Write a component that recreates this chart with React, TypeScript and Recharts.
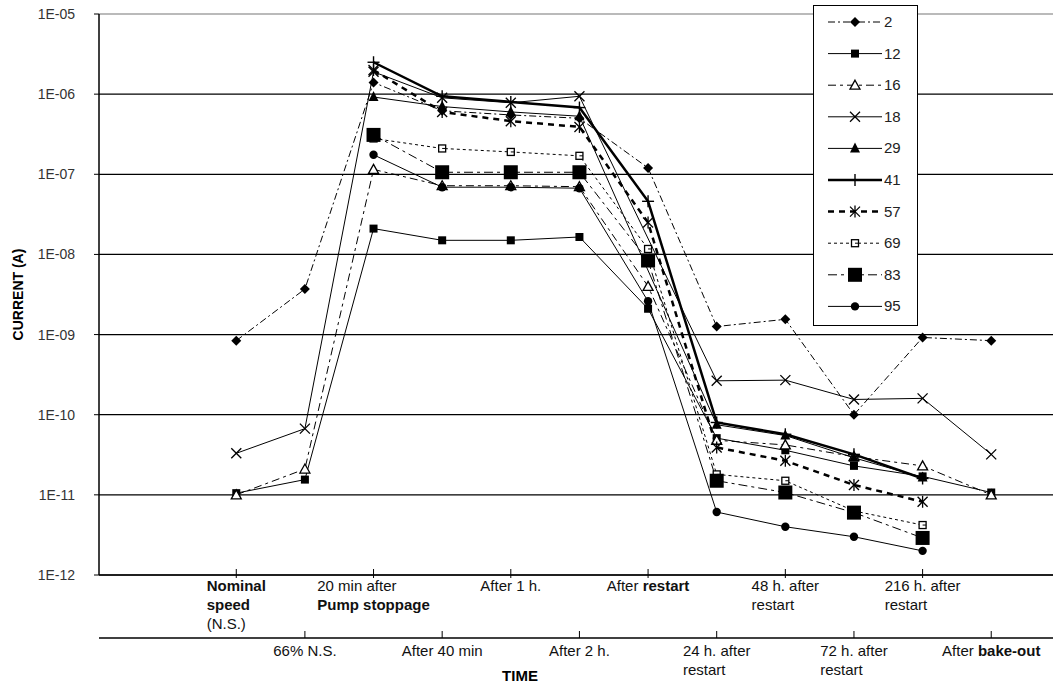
import React from "react";
import { LineChart, Line, XAxis, YAxis, CartesianGrid, Legend } from "recharts";

// x categories (index = position on the time axis)
const categories = [
  "Nominal speed (N.S.)",
  "66% N.S.",
  "20 min after Pump stoppage",
  "After 40 min",
  "After 1 h.",
  "After 2 h.",
  "After restart",
  "24 h. after restart",
  "48 h. after restart",
  "72 h. after restart",
  "216 h. after restart",
  "After bake-out",
];

// tick label lines, each line is a list of [text, bold]
const tickLines: [string, boolean][][][] = [
  [[["Nominal", true]], [["speed", true]], [["(N.S.)", false]]],
  [[["66% N.S.", false]]],
  [[["20 min after", false]], [["Pump stoppage", true]]],
  [[["After 40 min", false]]],
  [[["After 1 h.", false]]],
  [[["After 2 h.", false]]],
  [[["After ", false], ["restart", true]]],
  [[["24 h. after", false]], [["restart", false]]],
  [[["48 h. after", false]], [["restart", false]]],
  [[["72 h. after", false]], [["restart", false]]],
  [[["216 h. after", false]], [["restart", false]]],
  [[["After ", false], ["bake-out", true]]],
];

const topTicks = [0, 2, 4, 6, 8, 10];
const bottomTicks = [1, 3, 5, 7, 9, 11];
const yTicks = [1e-12, 1e-11, 1e-10, 1e-9, 1e-8, 1e-7, 1e-6, 1e-5];

const s2 = [8.4e-10, 3.7e-9, 1.4e-6, 6.2e-7, 5.5e-7, 5.0e-7, 1.2e-7, 1.26e-9, 1.55e-9, 1.0e-10, 9.2e-10, 8.4e-10];
const s12 = [1.05e-11, 1.55e-11, 2.1e-8, 1.5e-8, 1.5e-8, 1.65e-8, 2.1e-9, 5.1e-11, 3.6e-11, 2.3e-11, 1.7e-11, 1.07e-11];
const s16 = [1.0e-11, 2.1e-11, 1.15e-7, 7.2e-8, 7.2e-8, 7.0e-8, 4.0e-9, 4.8e-11, 4.2e-11, 3.0e-11, 2.3e-11, 1.0e-11];
const s18 = [3.3e-11, 6.7e-11, 1.9e-6, 9.0e-7, 7.8e-7, 9.4e-7, null, 2.65e-10, 2.7e-10, 1.55e-10, 1.6e-10, 3.2e-11];
const s29 = [null, null, 9.2e-7, 7.0e-7, 6.0e-7, 5.3e-7, null, 7.5e-11, 5.5e-11, 2.9e-11, 1.65e-11, null];
const s41 = [null, null, 2.5e-6, 9.4e-7, 8.0e-7, 6.8e-7, 4.6e-8, 8.0e-11, 5.7e-11, 3.2e-11, 1.6e-11, null];
const s57 = [null, null, 2.0e-6, 6.0e-7, 4.6e-7, 3.9e-7, 2.5e-8, 3.9e-11, 2.66e-11, 1.33e-11, 8.2e-12, null];
const s69 = [null, null, 2.8e-7, 2.1e-7, 1.9e-7, 1.7e-7, 1.17e-8, 1.8e-11, 1.5e-11, 6.3e-12, 4.2e-12, null];
const s83 = [null, null, 3.1e-7, 1.06e-7, 1.06e-7, 1.06e-7, 8.4e-9, 1.5e-11, 1.07e-11, 6.0e-12, 2.9e-12, null];
const s95 = [null, null, 1.75e-7, 6.9e-8, 6.9e-8, 6.7e-8, 2.6e-9, 6.1e-12, 4.0e-12, 3.0e-12, 2.0e-12, null];

const seriesNames = ["2", "12", "16", "18", "29", "41", "57", "69", "83", "95"];
const seriesValues = [s2, s12, s16, s18, s29, s41, s57, s69, s83, s95];

// drawing style per series
const styles = [
  { marker: "diamond", width: 1, dash: "7 3 2 3", connect: false },
  { marker: "square", width: 1, dash: undefined, connect: false },
  { marker: "triOpen", width: 1, dash: "8 4 3 4", connect: false },
  { marker: "x", width: 1, dash: undefined, connect: true },
  { marker: "tri", width: 1, dash: undefined, connect: true },
  { marker: "plus", width: 2.5, dash: undefined, connect: false },
  { marker: "star", width: 2.5, dash: "6 5", connect: false },
  { marker: "sqOpen", width: 1, dash: "3 3", connect: false },
  { marker: "sqBig", width: 1, dash: "9 4 3 4", connect: false },
  { marker: "circle", width: 1, dash: undefined, connect: false },
];

const data = categories.map((c, i) => {
  const row: any = { idx: i, name: c };
  seriesNames.forEach((n, k) => (row["s" + n] = seriesValues[k][i]));
  return row;
});

const FONT = '"Liberation Sans", Arial, sans-serif';
const FS = 15;

const ctx = typeof document !== "undefined" ? document.createElement("canvas").getContext("2d") : null;
function lineWidth(segs: [string, boolean][]) {
  if (!ctx) return segs.reduce((a, [t]) => a + t.length * 7.5, 0);
  return segs.reduce((a, [t, b]) => {
    ctx.font = `${b ? "bold " : ""}${FS}px ${FONT}`;
    return a + ctx.measureText(t).width;
  }, 0);
}

function Marker({ kind, cx, cy }: { kind: string; cx: number; cy: number }) {
  const k = "#000";
  switch (kind) {
    case "diamond":
      return <polygon points={`${cx},${cy - 5} ${cx + 5},${cy} ${cx},${cy + 5} ${cx - 5},${cy}`} fill={k} />;
    case "square":
      return <rect x={cx - 4} y={cy - 4} width={8} height={8} fill={k} />;
    case "triOpen":
      return <polygon points={`${cx},${cy - 5} ${cx + 5},${cy + 4} ${cx - 5},${cy + 4}`} fill="#fff" stroke={k} strokeWidth={1.3} />;
    case "x":
      return (
        <g stroke={k} strokeWidth={1.3}>
          <line x1={cx - 5} y1={cy - 5} x2={cx + 5} y2={cy + 5} />
          <line x1={cx - 5} y1={cy + 5} x2={cx + 5} y2={cy - 5} />
        </g>
      );
    case "tri":
      return <polygon points={`${cx},${cy - 6} ${cx + 5},${cy + 4} ${cx - 5},${cy + 4}`} fill={k} />;
    case "plus":
      return (
        <g stroke={k} strokeWidth={1.4}>
          <line x1={cx - 6} y1={cy} x2={cx + 6} y2={cy} />
          <line x1={cx} y1={cy - 6} x2={cx} y2={cy + 6} />
        </g>
      );
    case "star":
      return (
        <g stroke={k} strokeWidth={1.3}>
          <line x1={cx - 5} y1={cy - 5} x2={cx + 5} y2={cy + 5} />
          <line x1={cx - 5} y1={cy + 5} x2={cx + 5} y2={cy - 5} />
          <line x1={cx} y1={cy - 6} x2={cx} y2={cy + 6} />
        </g>
      );
    case "sqOpen":
      return (
        <g>
          <rect x={cx - 3.5} y={cy - 3.5} width={7} height={7} fill="#fff" stroke={k} strokeWidth={1.3} />
          <line x1={cx} y1={cy} x2={cx + 3.5} y2={cy} stroke={k} />
        </g>
      );
    case "sqBig":
      return <rect x={cx - 7} y={cy - 7} width={14} height={14} fill={k} />;
    default:
      return <circle cx={cx} cy={cy} r={4.2} fill={k} />;
  }
}

const makeDot = (kind: string) => (p: any) => {
  if (p.cy == null || p.value == null) return <g key={p.key} />;
  return (
    <g key={p.key}>
      <Marker kind={kind} cx={p.cx} cy={p.cy} />
    </g>
  );
};

function LabelBlock({ x, y, lines, first, step }: any) {
  const w = Math.max(...lines.map((l: [string, boolean][]) => lineWidth(l)));
  const left = x - w / 2;
  return (
    <>
      {lines.map((segs: [string, boolean][], i: number) => (
        <text key={i} x={left} y={y + first + i * step} fontSize={FS} fontFamily={FONT} fill="#111" style={{ whiteSpace: "pre" }}>
          {segs.map(([t, b], j) => (
            <tspan key={j} fontWeight={b ? 700 : 400}>
              {t}
            </tspan>
          ))}
        </text>
      ))}
    </>
  );
}

const TopTick = (p: any) => {
  const { x, y, payload } = p;
  return (
    <g>
      <line x1={x} x2={x} y1={y - 6} y2={y + 3} stroke="#000" />
      <LabelBlock x={x} y={y} lines={tickLines[payload.value]} first={16} step={19} />
    </g>
  );
};

const BottomTick = (p: any) => {
  const { x, y, payload } = p;
  return (
    <g>
      <line x1={x} x2={x} y1={y - 7} y2={y} stroke="#000" />
      <LabelBlock x={x} y={y} lines={tickLines[payload.value]} first={18} step={19} />
    </g>
  );
};

const fmtY = (v: number) => {
  const e = Math.round(Math.log10(v));
  return `1E-${String(-e).padStart(2, "0")}`;
};

const LegendBox = () => (
  <svg width={105} height={321} style={{ display: "block" }}>
    <rect x={0.5} y={0.5} width={104} height={320} fill="#fff" stroke="#000" />
    {seriesNames.map((n, i) => {
      const cy = 17 + i * 31.6;
      const s = styles[i];
      return (
        <g key={n}>
          <line x1={15} x2={69} y1={cy} y2={cy} stroke="#000" strokeWidth={s.width} strokeDasharray={s.dash} />
          <Marker kind={s.marker} cx={42} cy={cy} />
          <text x={71} y={cy + 5} fontSize={FS} fontFamily={FONT} fill="#222">
            {n}
          </text>
        </g>
      );
    })}
  </svg>
);

export default function App() {
  return (
    <div style={{ position: "absolute", left: 0, top: 0, background: "#fff" }}>
      <LineChart width={1053} height={684} data={data} margin={{ top: 14, right: 0, left: 0, bottom: 0 }} style={{ fontFamily: FONT }}>
        <CartesianGrid
          vertical={false}
          stroke="#000"
          strokeWidth={1.2}
          horizontal={(p: any) => (
            <line key={p.key ?? p.index} x1={p.x1} x2={p.x2} y1={p.y1} y2={p.y2} stroke={p.index === 7 || p.y1 < 20 ? "#777" : "#000"} strokeWidth={1.2} />
          )}
        />
        <XAxis
          xAxisId="a"
          type="number"
          dataKey="idx"
          domain={[-2, 11.9]}
          ticks={topTicks}
          interval={0}
          allowDataOverflow
          height={63}
          tickSize={0}
          tickMargin={0}
          tickLine={false}
          axisLine={{ stroke: "#000", strokeWidth: 1.5 }}
          tick={TopTick}
        />
        <XAxis
          xAxisId="b"
          type="number"
          dataKey="idx"
          domain={[-2, 11.9]}
          ticks={bottomTicks}
          interval={0}
          allowDataOverflow
          height={46}
          tickSize={0}
          tickMargin={0}
          tickLine={false}
          axisLine={{ stroke: "#000", strokeWidth: 1.5 }}
          tick={BottomTick}
          label={{ value: "TIME", position: "insideBottom", dx: -56, offset: 3, style: { fontWeight: 700, fontSize: 15, fill: "#000" } }}
        />
        <YAxis
          type="number"
          scale="log"
          domain={[1e-12, 1e-5]}
          ticks={yTicks}
          interval={0}
          allowDataOverflow
          width={99}
          tickSize={5}
          tickMargin={19}
          tickFormatter={fmtY}
          tick={{ fontSize: 14, fill: "#333", fontFamily: FONT }}
          tickLine={{ stroke: "#000" }}
          axisLine={{ stroke: "#000", strokeWidth: 1.5 }}
          label={{ value: "CURRENT (A)", angle: -90, position: "insideLeft", offset: 18, style: { fontWeight: 700, fontSize: 14, fill: "#000", textAnchor: "middle" } }}
        />
        {seriesNames.map((n, i) => (
          <Line
            key={n}
            xAxisId="a"
            type="linear"
            dataKey={"s" + n}
            name={n}
            stroke="#000"
            strokeWidth={styles[i].width}
            strokeDasharray={styles[i].dash}
            connectNulls={styles[i].connect}
            dot={makeDot(styles[i].marker)}
            activeDot={false}
            isAnimationActive={false}
          />
        ))}
        <Legend
          layout="vertical"
          align="center"
          verticalAlign="middle"
          content={LegendBox}
          wrapperStyle={{ left: 813, top: 5, width: 105, height: 321 }}
        />
      </LineChart>
    </div>
  );
}
